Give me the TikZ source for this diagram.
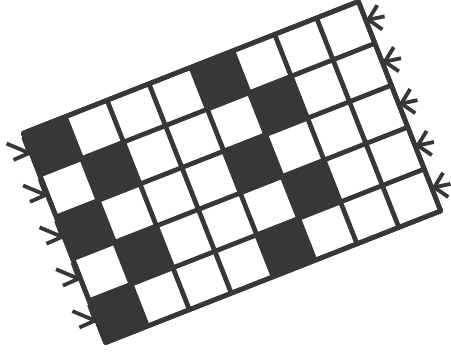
\documentclass[tikz,border=0pt]{standalone}
\usepackage{tikz}
\usetikzlibrary{arrows.meta}
\definecolor{inkgray}{RGB}{55, 55, 55}
\tikzstyle{cellfill} = [fill=inkgray]
\tikzstyle{gridline} = [draw=inkgray, line width=3pt, line join=round]
\tikzstyle{arrow} = [draw=inkgray, line width=2.4pt, -{Straight Barb[length=2.6mm, width=5.5mm]}]

\begin{document}
\begin{tikzpicture}
\useasboundingbox (0,0) rectangle (10.02,7.84);
\begin{scope}[shift={(0.518,4.882)}, rotate=21.45]
% dark cells (column/row)
\foreach \c/\r in {1/1,2/2,1/3,2/4,1/5,5/1,6/2,5/3,6/4,5/5}
  \fill[cellfill] (\c-1,1-\r) rectangle (\c,-\r);
% 8 x 5 board
\draw[gridline] (0,0) grid (8,-5);
\draw[gridline] (0,0) rectangle (8,-5);
% arrow ends on both long sides
\foreach \r in {1,...,5} {
  \coordinate (lefttip\r) at (0,0.5-\r);
  \coordinate (lefttail\r) at (-0.43,0.92-\r);
  \coordinate (righttip\r) at (8,0.55-\r);
  \coordinate (righttail\r) at (8.42,0.48-\r);
}
\end{scope}
% arrows into the board
\foreach \r in {1,...,5} {
  \draw[arrow] (lefttail\r) -- (lefttip\r);
  \draw[arrow] (righttail\r) -- (righttip\r);
}
\end{tikzpicture}
\end{document}
